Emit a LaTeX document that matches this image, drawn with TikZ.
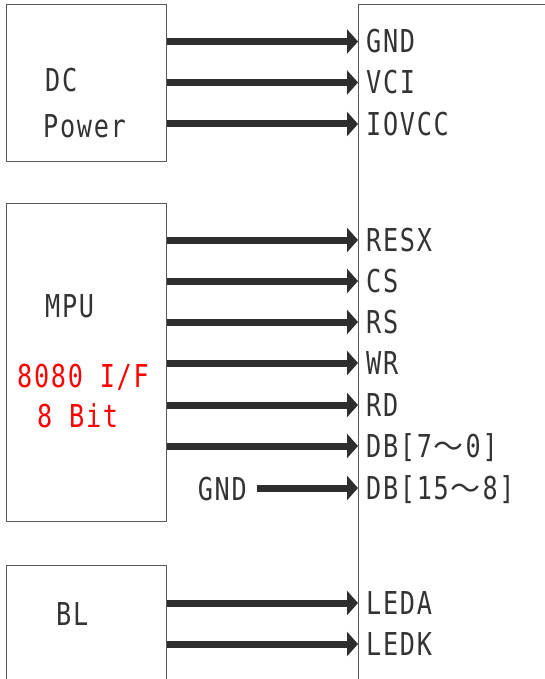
\documentclass[tikz,border=0pt]{standalone}
\usepackage{fontspec}
\newfontfamily\labfont[FakeStretch=0.8,LetterSpace=5.4]{DejaVu Sans Mono}
\newfontfamily\cjkfont{Noto Sans CJK SC}
\usetikzlibrary{arrows.meta}
\newcommand\wavechar{\makebox[33.7pt]{\cjkfont\fontsize{30}{30}\selectfont ～}}
\tikzset{
  box/.style={draw=black!65, line width=1.2pt, inner sep=0pt, anchor=north west},
  lab/.style={font=\labfont\fontsize{31.5}{32}\selectfont, text=black!80, inner xsep=0pt, inner ysep=0pt, text height=23pt, text depth=0pt},
  pin/.style={lab, anchor=west, inner xsep=8pt},
  redlab/.style={lab, text=red, anchor=west},
  sig/.style={draw=black!82, line width=7pt, -{Triangle[length=11pt,width=24pt]}}
}
\begin{document}
\begin{tikzpicture}[x=1pt,y=-1pt]
\useasboundingbox (0,0) rectangle (544,679);
% boxes
\node[box, minimum width=160pt, minimum height=157pt] (dc) at (6,4) {};
\node[box, minimum width=160pt, minimum height=318pt] (mpu) at (6,203) {};
\node[box, minimum width=160pt, minimum height=200pt] (bl) at (6,565) {};
\node[box, minimum width=260pt, minimum height=760pt] (lcd) at (358,4) {};
% box texts
\node[lab, anchor=west] (dct) at (45,80) {DC};
\node[lab, anchor=west] (pwt) at (43,126) {Power};
\node[lab, anchor=west] (mput) at (45,306) {MPU};
\node[redlab] (ift) at (17,376) {8080 I/F};
\node[redlab] (bitt) at (37,416) {8 Bit};
\node[lab, anchor=west] (blt) at (56,614) {BL};
\node[lab, anchor=east, inner xsep=10pt] (gndl) at (257,489) {GND};
% pins
\node[pin] (gnd) at (358,41.5) {GND};
\node[pin] (vci) at (358,82.5) {VCI};
\node[pin] (iovcc) at (358,124) {IOVCC};
\node[pin] (resx) at (358,240) {RESX};
\node[pin] (cs) at (358,281) {CS};
\node[pin] (rs) at (358,322) {RS};
\node[pin] (wr) at (358,363) {WR};
\node[pin] (rd) at (358,405) {RD};
\node[pin] (dbl) at (358,446) {DB[7\wavechar 0]};
\node[pin] (dbh) at (358,488) {DB[15\wavechar 8]};
\node[pin] (leda) at (358,603) {LEDA};
\node[pin] (ledk) at (358,644) {LEDK};
% connectors
\draw[sig] (dc.east |- gnd.west) -- (gnd.west);
\draw[sig] (dc.east |- vci.west) -- (vci.west);
\draw[sig] (dc.east |- iovcc.west) -- (iovcc.west);
\draw[sig] (mpu.east |- resx.west) -- (resx.west);
\draw[sig] (mpu.east |- cs.west) -- (cs.west);
\draw[sig] (mpu.east |- rs.west) -- (rs.west);
\draw[sig] (mpu.east |- wr.west) -- (wr.west);
\draw[sig] (mpu.east |- rd.west) -- (rd.west);
\draw[sig] (mpu.east |- dbl.west) -- (dbl.west);
\draw[sig] (gndl.east |- dbh.west) -- (dbh.west);
\draw[sig] (bl.east |- leda.west) -- (leda.west);
\draw[sig] (bl.east |- ledk.west) -- (ledk.west);
\end{tikzpicture}
\end{document}
